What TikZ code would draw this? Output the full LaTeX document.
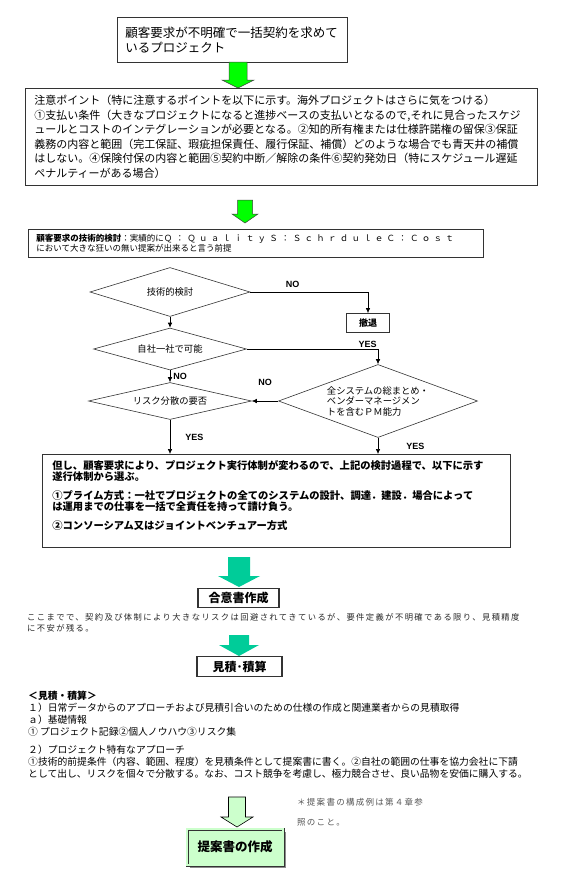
\documentclass[tikz,border=0pt]{standalone}
\usepackage{fontspec}
\setmainfont{Noto Sans CJK JP}
\newfontfamily\yesnofont{Liberation Sans}
\usetikzlibrary{arrows.meta,positioning,shapes.geometric,shadows}
\definecolor{arrowgreen}{HTML}{00FF00}
\definecolor{arrowteal}{HTML}{00CC99}
\definecolor{palegreen}{HTML}{CCFFCC}
\definecolor{boxline}{HTML}{333333}
\definecolor{notegray}{HTML}{555555}
\newcommand{\fatarrow}[7]{\draw[#1] (#2-#6,#3) -- (#2+#6,#3) -- (#2+#6,#4) -- (#2+#7,#4)
  -- (#2,#5) -- (#2-#7,#4) -- (#2-#6,#4) -- cycle;}

\begin{document}
\begin{tikzpicture}[x=1pt,y=-1pt,
    txtbox/.style={draw=boxline,line width=.7pt,align=left,inner xsep=8pt},
    decision/.style={diamond,aspect=4,draw=boxline,line width=.6pt,inner sep=0pt,
      align=center,font=\fontsize{9.3}{10.5}\selectfont},
    titlebox/.style={draw=boxline,line width=1.1pt,inner sep=2pt,
      font=\bfseries\fontsize{12}{14}\selectfont},
    flow/.style={draw=black,line width=.6pt,-{Latex[length=5pt,width=4.5pt]}},
    yesno/.style={font=\yesnofont\bfseries\fontsize{9}{10}\selectfont,inner sep=1pt},
    greenarrow/.style={fill=arrowgreen,draw=black!75,line width=.5pt},
    tealarrow/.style={fill=arrowteal,draw=none},
    palearrow/.style={fill=palegreen,draw=black,line width=.6pt}]
  \useasboundingbox (0,0) rectangle (560,881);

  \node[txtbox,anchor=north west,text width=214pt,minimum height=45pt,
    font=\fontsize{12.5}{15.5}\selectfont] (request) at (117,17)
    {顧客要求が不明確で一括契約を求めて\\いるプロジェクト};
  \fatarrow{greenarrow}{238}{62}{80}{88}{9}{16}

  \node[txtbox,anchor=north west,text width=494pt,inner xsep=9pt,minimum height=97pt,
    font=\fontsize{11}{14.5}\selectfont] (caution) at (25,88)
    {注意ポイント（特に注意するポイントを以下に示す。海外プロジェクトはさらに気をつける）\\
     ①支払い条件（大きなプロジェクトになると進捗ベースの支払いとなるので,それに見合ったスケジ\\
     ュールとコストのインテグレーションが必要となる。②知的所有権または仕様許諾権の留保③保証\\
     義務の内容と範囲（完工保証、瑕疵担保責任、履行保証、補償）どのような場合でも青天井の補償\\
     はしない。④保険付保の内容と範囲⑤契約中断／解除の条件⑥契約発効日（特にスケジュール遅延\\
     ペナルティーがある場合）};
  \fatarrow{greenarrow}{245}{200}{214}{223}{7.5}{13}

  \node[txtbox,anchor=north west,text width=439pt,minimum height=28pt,
    font=\fontsize{8.5}{10.5}\selectfont] (premise) at (28,229)
    {{\bfseries 顧客要求の技術的検討}：実績的に{\addfontfeatures{LetterSpace=38}Ｑ：ＱｕａｌｉｔｙＳ：ＳｃｈｒｄｕｌｅＣ：Ｃｏｓｔ}\\
     において大きな狂いの無い提案が出来ると言う前提};

  \node[decision,minimum width=160pt,minimum height=49pt] (techcheck) at (170,292) {技術的検討};
  \node[draw=boxline,line width=.7pt,minimum width=43pt,minimum height=19pt,inner sep=1pt,
    font=\bfseries\fontsize{9}{10}\selectfont] (withdraw) at (368,323) {撤退};
  \node[decision,minimum width=153pt,minimum height=42pt] (inhouse) at (170,349) {自社一社で可能};
  \node[decision,minimum width=163pt,minimum height=37pt] (riskspread) at (170,401) {リスク分散の要否};
  \node[decision,aspect=2.7,minimum width=199pt,minimum height=73pt,align=left] (pmskill) at (378,401)
    {全システムの総まとめ・\\ベンダーマネージメン\\トを含むＰＭ能力};

  \node[txtbox,anchor=north west,text width=448pt,inner xsep=10pt,inner ysep=6pt,text depth=72pt,
    font=\bfseries\fontsize{10.3}{11.5}\selectfont] (scheme) at (42,454)
    {但し、顧客要求により、プロジェクト実行体制が変わるので、上記の検討過程で、以下に示す\\
     遂行体制から選ぶ。\\[7pt]
     ①プライム方式：一社でプロジェクトの全てのシステムの設計、調達．建設．場合によって\\
     は運用までの仕事を一括で全責任を持って請け負う。\\[7pt]
     ②コンソーシアム又はジョイントベンチュアー方式};

  \draw[flow] (techcheck.east) -| node[yesno,above=3pt,pos=.18] {NO} (withdraw.north);
  \draw[flow] (techcheck.south) -- (inhouse.north);
  \draw[flow] (inhouse.east) -| node[yesno,above left,pos=.5] {YES} (pmskill.north);
  \draw[flow] (inhouse.south) -- node[yesno,right=2pt] {NO} (riskspread.north);
  \draw[flow] (pmskill.west) -- node[yesno,above=14pt] {NO} (riskspread.east);
  \draw[flow] (riskspread.south) -- node[yesno,right=14pt] {YES} (riskspread.south |- scheme.north);
  \draw[flow] (pmskill.south) -- node[yesno,right=27pt] {YES} (pmskill.south |- scheme.north);

  \fatarrow{tealarrow}{239}{557}{576}{587}{11}{21}
  \node[titlebox,minimum width=81pt,minimum height=19pt] (agreement) at (238.5,598) {合意書作成};
  \node[anchor=north west,inner sep=2pt,align=left,text=black!85,
    font=\fontsize{8.3}{11}\selectfont\addfontfeatures{LetterSpace=17}] (riskremark) at (25,611)
    {ここまでで、契約及び体制により大きなリスクは回避されてきているが、要件定義が不明確である限り、見積精度\\
     に不安が残る。};

  \fatarrow{tealarrow}{239}{635}{645}{656}{10}{20}
  \node[titlebox,minimum width=85pt,minimum height=20pt] (estimate) at (239.5,666.5) {見積･積算};
  \node[anchor=north west,inner sep=2pt,align=left,font=\fontsize{9.8}{12}\selectfont] (estnotes) at (26,689)
    {{\bfseries ＜見積・積算＞}\\
     １）日常データからのアプローチおよび見積引合いのための仕様の作成と関連業者からの見積取得\\
     ａ）基礎情報\\
     ① プロジェクト記録②個人ノウハウ③リスク集\\[6pt]
     ２）プロジェクト特有なアプローチ\\
     ①技術的前提条件（内容、範囲、程度）を見積条件として提案書に書く。②自社の範囲の仕事を協力会社に下請\\
     として出し、リスクを個々で分散する。なお、コスト競争を考慮し、極力競合させ、良い品物を安価に購入する。};

  \fatarrow{palearrow}{237}{797}{817}{827}{8.5}{16}
  \node[titlebox,line width=.7pt,fill=palegreen,double=palegreen,double distance=1.6pt,
    drop shadow={shadow xshift=2.5pt,shadow yshift=-2.5pt,fill=black!45,opacity=1},
    minimum width=96pt,minimum height=36pt,font=\bfseries\fontsize{12.5}{14}\selectfont]
    (proposal) at (235,847) {提案書の作成};
  \node[anchor=north west,inner sep=0pt,align=left,text=notegray,
    font=\fontsize{8.5}{20}\selectfont\addfontfeatures{LetterSpace=15}] (chapternote) at (297,798)
    {＊提案書の構成例は第４章参\\照のこと。};
\end{tikzpicture}
\end{document}
